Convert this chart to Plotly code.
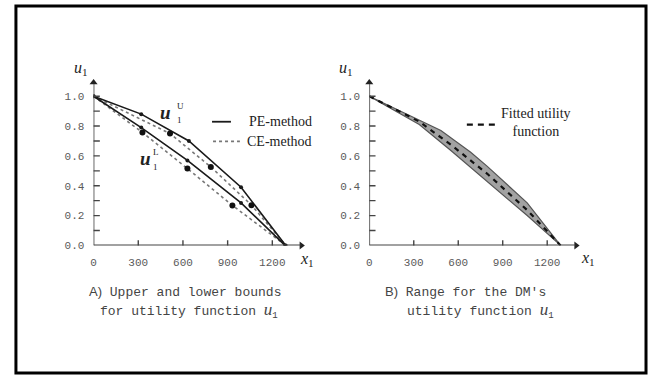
import plotly.graph_objects as go

W, H = 648, 382

# ---------------- data ----------------
# Panel A: PE-method bounds (solid) with assessed points
pe_upper_x = [0, 320, 640, 990, 1290]
pe_upper_u = [1.0, 0.88, 0.70, 0.39, 0.0]
pe_lower_x = [0, 320, 630, 990, 1285]
pe_lower_u = [1.0, 0.79, 0.57, 0.285, 0.0]
# CE-method bounds (dotted) with assessed points
ce_upper_x = [0, 513, 787, 1060, 1290]
ce_upper_u = [1.0, 0.75, 0.526, 0.27, 0.0]
ce_lower_x = [0, 328, 630, 932, 1290]
ce_lower_u = [1.0, 0.757, 0.515, 0.268, 0.0]

# Panel B: range for the DM's utility function and fitted function
band_upper_x = [0, 300, 483, 684, 796, 1065, 1290]
band_upper_u = [1.0, 0.86, 0.77, 0.625, 0.53, 0.285, 0.0]
band_lower_x = [0, 337, 550, 796, 1065, 1290]
band_lower_u = [1.0, 0.81, 0.636, 0.43, 0.20, 0.0]
fit_x = [0, 337, 550, 796, 1065, 1290]
fit_u = [1.0, 0.83, 0.675, 0.48, 0.237, 0.0]

x_ticks = [0, 300, 600, 900, 1200]
x_tick_labels = ["0", "300", "600", "900", "1200"]
y_ticks = [0.0, 0.2, 0.4, 0.6, 0.8, 1.0]
y_tick_labels = ["0.0", "0.2", "0.4", "0.6", "0.8", "1.0"]
y_minor_ticks = [0.1, 0.2, 0.3, 0.4, 0.5, 0.6, 0.7, 0.8, 0.9, 1.0]

X_MAX = 1410
Y_MAX = 1.112

# ---------------- helpers ----------------
def px(x):
    return x / W

def py(y):
    return 1 - y / H

AX_COL = "#444444"
LINE_COL = "#1a1a1a"
TICK_FONT = dict(family="Liberation Mono, Courier New, monospace", size=11, color="#5a5a5a")
SERIF = "Liberation Serif, Times New Roman, serif"

fig = go.Figure()

# Panel A traces
fig.add_trace(go.Scatter(x=ce_upper_x, y=ce_upper_u, mode="lines",
                         line=dict(color="#777777", width=1.6, dash="dot"),
                         xaxis="x", yaxis="y", showlegend=False))
fig.add_trace(go.Scatter(x=ce_lower_x, y=ce_lower_u, mode="lines",
                         line=dict(color="#777777", width=1.6, dash="dot"),
                         xaxis="x", yaxis="y", showlegend=False))
fig.add_trace(go.Scatter(x=pe_upper_x, y=pe_upper_u, mode="lines+markers",
                         line=dict(color=LINE_COL, width=1.6),
                         marker=dict(size=4, color=LINE_COL),
                         xaxis="x", yaxis="y", showlegend=False))
fig.add_trace(go.Scatter(x=pe_lower_x, y=pe_lower_u, mode="lines+markers",
                         line=dict(color=LINE_COL, width=1.6),
                         marker=dict(size=4, color=LINE_COL),
                         xaxis="x", yaxis="y", showlegend=False))
fig.add_trace(go.Scatter(x=ce_upper_x[1:-1] + ce_lower_x[1:-1],
                         y=ce_upper_u[1:-1] + ce_lower_u[1:-1],
                         mode="markers", marker=dict(size=6, color="#111111"),
                         xaxis="x", yaxis="y", showlegend=False))

# Panel B traces
fig.add_trace(go.Scatter(x=band_upper_x + band_lower_x[::-1],
                         y=band_upper_u + band_lower_u[::-1],
                         mode="lines", fill="toself", fillcolor="#a2a2a2",
                         line=dict(color="#555555", width=1.2),
                         xaxis="x2", yaxis="y2", showlegend=False))
fig.add_trace(go.Scatter(x=fit_x, y=fit_u, mode="lines",
                         line=dict(color="#111111", width=2.2, dash="5px,5px"),
                         xaxis="x2", yaxis="y2", showlegend=False))

# axis arrows
for xa, ya in (("x", "y"), ("x2", "y2")):
    fig.add_trace(go.Scatter(x=[0], y=[Y_MAX - 0.02], mode="markers",
                             marker=dict(symbol="triangle-up", size=7, color="#222222"),
                             cliponaxis=False, xaxis=xa, yaxis=ya, showlegend=False))
    fig.add_trace(go.Scatter(x=[X_MAX - 15], y=[0], mode="markers",
                             marker=dict(symbol="triangle-right", size=7, color="#222222"),
                             cliponaxis=False, xaxis=xa, yaxis=ya, showlegend=False))

shapes = []
for xr, yr in (("x", "y"), ("x2", "y2")):
    shapes.append(dict(type="line", xref=xr, yref=yr, x0=0, x1=X_MAX - 20, y0=0, y1=0,
                       line=dict(color=AX_COL, width=1.6)))
    shapes.append(dict(type="line", xref=xr, yref=yr, x0=0, x1=0, y0=0, y1=Y_MAX - 0.03,
                       line=dict(color=AX_COL, width=1.6)))
    for t in x_ticks[1:]:
        shapes.append(dict(type="line", xref=xr, yref=yr, x0=t, x1=t, y0=-0.035, y1=0.035,
                           line=dict(color=AX_COL, width=1.4)))
    for t in y_minor_ticks:
        shapes.append(dict(type="line", xref=xr, yref=yr, x0=-42, x1=42, y0=t, y1=t,
                           line=dict(color=AX_COL, width=1.4)))

# legend lines (panel A and B)
shapes.append(dict(type="line", xref="paper", yref="paper", x0=px(210), x1=px(229),
                   y0=py(124), y1=py(124), line=dict(color=LINE_COL, width=1.8)))
shapes.append(dict(type="line", xref="paper", yref="paper", x0=px(211), x1=px(238),
                   y0=py(144), y1=py(144), line=dict(color="#777777", width=1.8, dash="dot")))
shapes.append(dict(type="line", xref="paper", yref="paper", x0=px(466), x1=px(499),
                   y0=py(127), y1=py(127), line=dict(color="#111111", width=2.2, dash="6px,5px")))
# outer frame
shapes.append(dict(type="rect", xref="paper", yref="paper", x0=px(13), x1=px(646),
                   y0=py(380), y1=py(6), line=dict(color="black", width=3)))

ann = []
def a(x, y, text, size=14, family=SERIF, color="#222222", xanchor="center", xr="paper", yr="paper"):
    ann.append(dict(x=x, y=y, xref=xr, yref=yr, text=text, showarrow=False,
                    font=dict(family=family, size=size, color=color),
                    xanchor=xanchor, yanchor="middle", align="center"))

# legend texts
a(px(245), py(124), "PE-method", size=14, xanchor="left")
a(px(243), py(144), "CE-method", size=14, xanchor="left")
a(px(535), py(125), "Fitted utility<br>function", size=14)

# curve labels panel A
a(482, 0.89, "<b><i>u</i></b>", size=19, xr="x", yr="y")
a(583, 0.935, "U", size=9, xr="x", yr="y")
a(578, 0.84, "1", size=9, xr="x", yr="y")
a(348, 0.58, "<b><i>u</i></b>", size=19, xr="x", yr="y")
a(422, 0.625, "L", size=9, xr="x", yr="y")
a(417, 0.525, "1", size=9, xr="x", yr="y")

# axis titles
for (ux, uy), (xx, xy) in (((78, 70), (305, 264)), ((345, 70), (588, 263))):
    a(px(ux), py(uy), "<i>u</i><sub>1</sub>", size=16)
    a(px(xx), py(xy), "<i>x</i><sub>1</sub>", size=16)

MONO = "Liberation Mono, Courier New, monospace"
cap_col = "#444444"
a(px(84), py(297), "<span style='font-family:Liberation Sans'>A)</span> Upper and lower bounds",
  size=13, family=MONO, color=cap_col, xanchor="left")
a(px(95), py(316), "for utility function <span style='font-family:Liberation Serif;font-size:17px'><i>u</i></span><sub>1</sub>",
  size=13, family=MONO, color=cap_col, xanchor="left")
a(px(382), py(297), "<span style='font-family:Liberation Sans'>B)</span> Range for the DM's",
  size=13, family=MONO, color=cap_col, xanchor="left")
a(px(404), py(316), "utility function <span style='font-family:Liberation Serif;font-size:17px'><i>u</i></span><sub>1</sub>",
  size=13, family=MONO, color=cap_col, xanchor="left")

axis_common = dict(showgrid=False, zeroline=False, showline=False, ticks="outside",
                   ticklen=6, tickcolor="rgba(0,0,0,0)", tickfont=TICK_FONT, fixedrange=True)

fig.update_layout(
    width=W, height=H,
    margin=dict(l=0, r=0, t=0, b=0),
    paper_bgcolor="white", plot_bgcolor="rgba(0,0,0,0)",
    xaxis=dict(domain=[px(91), px(302)], range=[0, X_MAX], tickvals=x_ticks,
               ticktext=x_tick_labels, anchor="y", **axis_common),
    yaxis=dict(domain=[py(250), py(81)], range=[0, Y_MAX], tickvals=y_ticks,
               ticktext=y_tick_labels, anchor="x", **axis_common),
    xaxis2=dict(domain=[px(368), px(578)], range=[0, X_MAX], tickvals=x_ticks,
                ticktext=x_tick_labels, anchor="y2", **axis_common),
    yaxis2=dict(domain=[py(250), py(81)], range=[0, Y_MAX], tickvals=y_ticks,
                ticktext=y_tick_labels, anchor="x2", **axis_common),
    shapes=shapes,
    annotations=ann,
)

fig.write_html("out.html", config={"displayModeBar": False},
               post_script="document.body.style.margin='0';document.body.style.overflow='hidden';")
